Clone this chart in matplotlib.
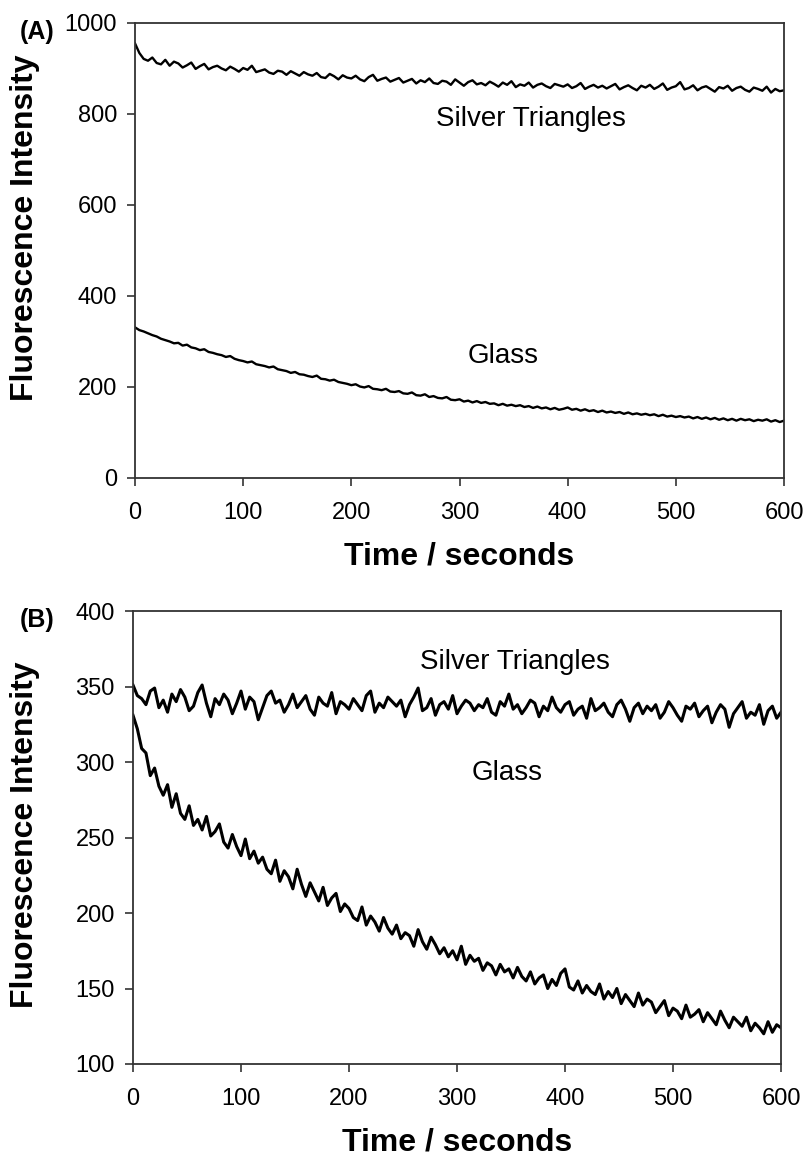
from matplotlib import pyplot as plt

plt.rc('font', family='Liberation Sans')

# time axis, one reading every 4 s
time_s = list(range(0, 601, 4))

# panel A
a_silver = [955, 934, 921, 917, 924, 912, 909, 919, 906, 915,
            911, 902, 907, 913, 899, 905, 910, 898, 903, 906,
            900, 896, 904, 899, 893, 901, 897, 906, 892, 895,
            898, 891, 888, 895, 893, 886, 894, 889, 884, 892,
            887, 884, 890, 881, 879, 888, 883, 876, 885, 880,
            878, 884, 876, 872, 881, 886, 873, 877, 880, 871,
            875, 879, 869, 873, 877, 867, 874, 870, 878, 868,
            866, 873, 871, 864, 876, 869, 862, 870, 874, 865,
            868, 863, 871, 866, 860, 869, 864, 872, 859, 865,
            862, 869, 858, 864, 867, 861, 857, 866, 863, 860,
            865, 857, 861, 868, 855, 860, 864, 858, 862, 856,
            861, 866, 854, 859, 863, 857, 852, 862, 858, 864,
            855, 860, 867, 853, 858, 861, 870, 854, 857, 863,
            852, 858, 861, 855, 849, 859, 856, 862, 851, 857,
            860, 853, 849, 858, 855, 851, 860, 847, 855, 850,
            852]
a_glass = [331, 325, 322, 318, 314, 311, 306, 303, 300, 296,
           297, 291, 293, 287, 285, 281, 283, 277, 275, 272,
           270, 266, 268, 262, 259, 257, 254, 256, 250, 248,
           246, 243, 245, 239, 237, 235, 231, 233, 228, 227,
           224, 222, 225, 218, 217, 214, 216, 211, 209, 207,
           204, 206, 201, 199, 202, 196, 195, 193, 196, 190,
           189, 191, 186, 185, 188, 182, 181, 184, 178, 180,
           176, 175, 178, 172, 171, 173, 168, 170, 166, 169,
           165, 167, 163, 164, 160, 163, 159, 161, 158, 160,
           156, 158, 154, 157, 153, 155, 151, 154, 150, 152,
           155, 150, 152, 148, 151, 147, 149, 145, 148, 144,
           146, 143, 145, 141, 144, 140, 142, 139, 141, 138,
           140, 136, 139, 135, 137, 134, 136, 133, 135, 131,
           134, 130, 133, 129, 132, 128, 131, 127, 130, 126,
           130, 127, 129, 125, 128, 126, 129, 124, 127, 123,
           126]

# panel B
b_silver = [351, 344, 342, 338, 347, 349, 336, 341, 333, 345,
            340, 348, 343, 334, 337, 346, 351, 339, 330, 342,
            338, 345, 341, 332, 339, 347, 335, 343, 340, 328,
            336, 344, 347, 339, 341, 333, 338, 345, 336, 340,
            344, 335, 331, 343, 339, 337, 346, 332, 340, 338,
            335, 342, 338, 334, 344, 347, 333, 339, 336, 343,
            340, 337, 341, 330, 338, 343, 349, 334, 336, 342,
            331, 338, 340, 335, 344, 332, 337, 341, 339, 334,
            338, 336, 342, 333, 331, 340, 337, 345, 335, 338,
            332, 336, 341, 339, 330, 337, 334, 343, 336, 333,
            338, 340, 331, 335, 337, 329, 342, 334, 336, 339,
            333, 330, 338, 341, 335, 327, 336, 339, 332, 337,
            334, 338, 329, 333, 340, 336, 331, 327, 337, 335,
            339, 330, 334, 337, 326, 333, 338, 335, 323, 332,
            336, 340, 329, 333, 331, 338, 325, 334, 337, 329,
            333]
b_glass = [331, 322, 309, 306, 291, 296, 284, 278, 285, 270,
           279, 266, 262, 271, 258, 262, 255, 264, 251, 254,
           259, 247, 243, 252, 244, 238, 249, 236, 241, 233,
           237, 229, 226, 235, 221, 228, 224, 216, 229, 219,
           211, 220, 214, 208, 217, 205, 210, 213, 201, 206,
           203, 197, 195, 204, 192, 198, 194, 188, 197, 190,
           186, 192, 183, 187, 185, 178, 189, 181, 176, 184,
           179, 173, 177, 171, 175, 169, 178, 166, 172, 168,
           170, 162, 167, 165, 159, 166, 161, 163, 157, 164,
           158, 155, 161, 153, 157, 159, 150, 156, 152, 160,
           163, 151, 149, 155, 147, 152, 148, 146, 153, 143,
           148, 144, 150, 140, 146, 142, 138, 147, 139, 143,
           141, 134, 138, 142, 132, 137, 135, 130, 139, 131,
           133, 136, 128, 134, 130, 126, 135, 129, 124, 131,
           128, 125, 131, 122, 127, 124, 120, 128, 121, 126,
           124]

x_ticks = [0, 100, 200, 300, 400, 500, 600]
a_yticks = [0, 200, 400, 600, 800, 1000]
b_yticks = [100, 150, 200, 250, 300, 350, 400]

fig = plt.figure(figsize=(8.09, 11.65), dpi=100)

# 面板A
ax1 = fig.add_axes([0.1669, 0.5897, 0.8022, 0.3906])
ax1.plot(time_s, a_silver, color='black', lw=1.7)
ax1.plot(time_s, a_glass, color='black', lw=1.7)
ax1.set_xlim(0, 600)
ax1.set_ylim(0, 1000)
ax1.set_yticks(a_yticks)
ax1.text(366, 789, 'Silver Triangles', fontsize=20, ha='center', va='center')
ax1.text(340, 268, 'Glass', fontsize=20, ha='center', va='center')

# 面板B
ax2 = fig.add_axes([0.1644, 0.0867, 0.8010, 0.3888])
ax2.plot(time_s, b_silver, color='black', lw=2.2)
ax2.plot(time_s, b_glass, color='black', lw=2.2)
ax2.set_xlim(0, 600)
ax2.set_ylim(100, 400)
ax2.set_yticks(b_yticks)
ax2.text(354, 366, 'Silver Triangles', fontsize=20, ha='center', va='center')
ax2.text(346, 293, 'Glass', fontsize=20, ha='center', va='center')

for ax in [ax1, ax2]:
    ax.set_xticks(x_ticks)
    ax.tick_params(direction='out', length=6, width=1.2, labelsize=17, color='#333333')
    ax.tick_params(axis='x', pad=11)
    ax.tick_params(axis='y', pad=7)
    for sp in ax.spines.values():
        sp.set_color('#333333')
        sp.set_linewidth(1.3)
    ax.set_xlabel('Time / seconds', fontsize=23, fontweight='bold', labelpad=13)

fig.text(25 / 809, 1 - 228 / 1165, 'Fluorescence Intensity', rotation=90,
         fontsize=23, fontweight='bold', ha='center', va='center')
fig.text(25 / 809, 1 - 835 / 1165, 'Fluorescence Intensity', rotation=90,
         fontsize=23, fontweight='bold', ha='center', va='center')
fig.text(37 / 809, 1 - 32 / 1165, '(A)', fontsize=18, fontweight='bold', ha='center', va='center')
fig.text(37 / 809, 1 - 620 / 1165, '(B)', fontsize=18, fontweight='bold', ha='center', va='center')

plt.savefig('out.png', dpi=100)
